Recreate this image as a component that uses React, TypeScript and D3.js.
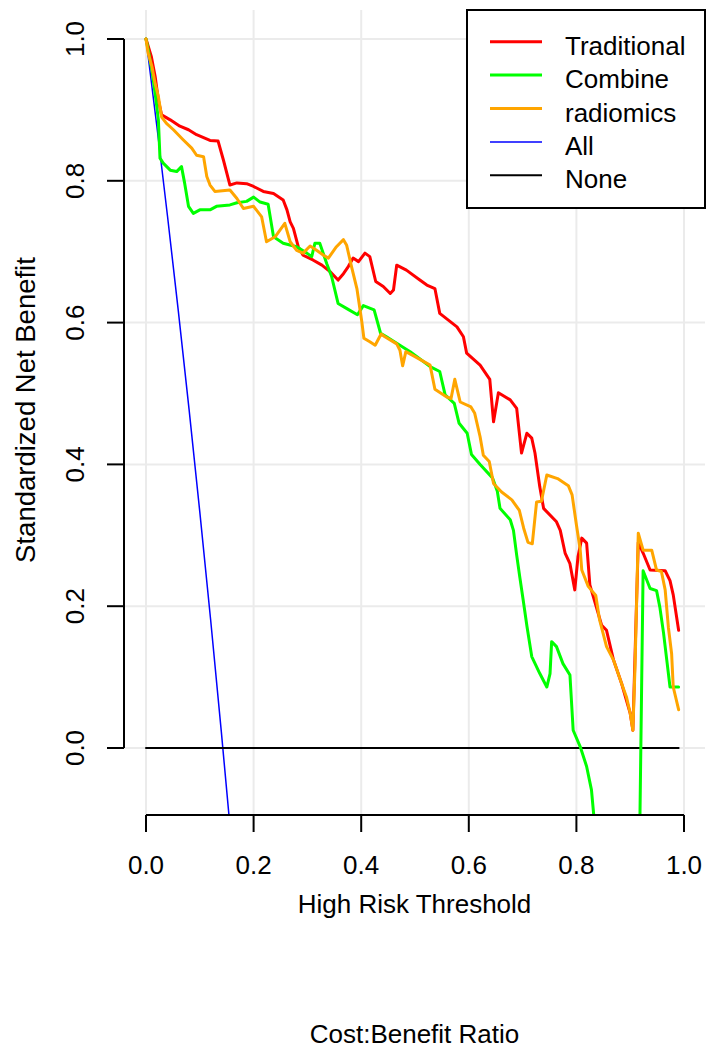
import React from "react";
import * as d3 from "d3";

// ---------- data ----------
const seriesNames = ["Traditional", "Combine", "radiomics", "All", "None"];

const traditional: [number, number][] = [
  [0, 1.0], [0.01, 0.975], [0.017, 0.947], [0.023, 0.914], [0.029, 0.893], [0.045, 0.886],
  [0.063, 0.877], [0.079, 0.872], [0.094, 0.865], [0.119, 0.857], [0.134, 0.856], [0.144, 0.829],
  [0.156, 0.794], [0.169, 0.797], [0.187, 0.796], [0.2, 0.792], [0.218, 0.785], [0.237, 0.782],
  [0.255, 0.773], [0.262, 0.759], [0.268, 0.742], [0.274, 0.733], [0.283, 0.707], [0.292, 0.695],
  [0.311, 0.688], [0.327, 0.681], [0.342, 0.672], [0.357, 0.66], [0.367, 0.669], [0.376, 0.679],
  [0.385, 0.691], [0.395, 0.686], [0.407, 0.698], [0.416, 0.693], [0.427, 0.658], [0.441, 0.651],
  [0.454, 0.641], [0.46, 0.646], [0.466, 0.681], [0.484, 0.674], [0.509, 0.66], [0.522, 0.653],
  [0.537, 0.648], [0.546, 0.613], [0.578, 0.594], [0.59, 0.58], [0.596, 0.557], [0.621, 0.54],
  [0.639, 0.52], [0.646, 0.46], [0.655, 0.501], [0.677, 0.491], [0.689, 0.479], [0.698, 0.416],
  [0.708, 0.444], [0.717, 0.437], [0.723, 0.416], [0.732, 0.368], [0.739, 0.338], [0.763, 0.319],
  [0.77, 0.307], [0.779, 0.275], [0.788, 0.26], [0.797, 0.223], [0.803, 0.27], [0.81, 0.296],
  [0.819, 0.289], [0.825, 0.23], [0.847, 0.173], [0.856, 0.166], [0.869, 0.124], [0.884, 0.091],
  [0.9, 0.049], [0.905, 0.025], [0.915, 0.29], [0.924, 0.275], [0.937, 0.251], [0.965, 0.25],
  [0.974, 0.236], [0.98, 0.216], [0.99, 0.166],
];

const combine: [number, number][] = [
  [0, 1.0], [0.004, 0.985], [0.011, 0.956], [0.017, 0.923], [0.02, 0.905], [0.023, 0.886],
  [0.026, 0.832], [0.032, 0.825], [0.045, 0.815], [0.057, 0.813], [0.066, 0.82], [0.072, 0.796],
  [0.079, 0.764], [0.088, 0.754], [0.1, 0.759], [0.119, 0.759], [0.131, 0.764], [0.156, 0.766],
  [0.169, 0.769], [0.187, 0.771], [0.2, 0.777], [0.212, 0.77], [0.227, 0.767], [0.237, 0.721],
  [0.255, 0.712], [0.28, 0.707], [0.299, 0.698], [0.308, 0.693], [0.314, 0.712], [0.323, 0.712],
  [0.336, 0.683], [0.345, 0.665], [0.357, 0.627], [0.375, 0.619], [0.393, 0.611], [0.404, 0.624],
  [0.424, 0.618], [0.436, 0.585], [0.447, 0.58], [0.466, 0.571], [0.491, 0.559], [0.528, 0.538],
  [0.546, 0.531], [0.556, 0.498], [0.573, 0.486], [0.582, 0.458], [0.597, 0.444], [0.605, 0.414],
  [0.621, 0.4], [0.644, 0.381], [0.653, 0.362], [0.658, 0.338], [0.677, 0.322], [0.683, 0.307],
  [0.689, 0.272], [0.695, 0.24], [0.701, 0.209], [0.708, 0.172], [0.717, 0.129], [0.732, 0.105],
  [0.745, 0.086], [0.751, 0.105], [0.754, 0.15], [0.763, 0.143], [0.775, 0.119], [0.788, 0.103],
  [0.794, 0.025], [0.807, 0.002], [0.819, -0.026], [0.828, -0.059], [0.84, -0.16], [0.85, -0.4],
  [0.913, -0.4], [0.924, 0.25], [0.937, 0.225], [0.949, 0.222], [0.955, 0.199], [0.962, 0.162],
  [0.968, 0.124], [0.974, 0.086], [0.99, 0.086],
];

const radiomics: [number, number][] = [
  [0, 1.0], [0.004, 0.98], [0.011, 0.961], [0.017, 0.937], [0.023, 0.919], [0.029, 0.89],
  [0.038, 0.881], [0.051, 0.872], [0.069, 0.858], [0.085, 0.846], [0.094, 0.836], [0.107, 0.834],
  [0.113, 0.806], [0.119, 0.794], [0.128, 0.785], [0.156, 0.787], [0.169, 0.775], [0.181, 0.761],
  [0.2, 0.764], [0.215, 0.749], [0.224, 0.714], [0.24, 0.721], [0.258, 0.74], [0.268, 0.714],
  [0.28, 0.702], [0.292, 0.698], [0.305, 0.708], [0.317, 0.702], [0.33, 0.695], [0.339, 0.691],
  [0.354, 0.707], [0.367, 0.717], [0.373, 0.709], [0.382, 0.679], [0.392, 0.648], [0.401, 0.602],
  [0.405, 0.578], [0.416, 0.573], [0.426, 0.568], [0.437, 0.584], [0.444, 0.58], [0.466, 0.57],
  [0.472, 0.561], [0.477, 0.539], [0.483, 0.559], [0.5, 0.552], [0.528, 0.54], [0.537, 0.506],
  [0.559, 0.495], [0.567, 0.493], [0.574, 0.52], [0.584, 0.488], [0.604, 0.481], [0.611, 0.472],
  [0.621, 0.439], [0.627, 0.413], [0.638, 0.404], [0.646, 0.373], [0.661, 0.361], [0.68, 0.35],
  [0.694, 0.335], [0.702, 0.31], [0.71, 0.29], [0.718, 0.288], [0.726, 0.347], [0.735, 0.348],
  [0.745, 0.385], [0.765, 0.38], [0.785, 0.37], [0.792, 0.357], [0.8, 0.315], [0.807, 0.28],
  [0.81, 0.251], [0.822, 0.228], [0.836, 0.215], [0.843, 0.181], [0.856, 0.143], [0.869, 0.124],
  [0.884, 0.091], [0.893, 0.072], [0.9, 0.049], [0.905, 0.025], [0.909, 0.115], [0.915, 0.303],
  [0.924, 0.279], [0.94, 0.279], [0.949, 0.251], [0.958, 0.249], [0.965, 0.223], [0.971, 0.17],
  [0.977, 0.133], [0.98, 0.086], [0.99, 0.054],
];

const treatAll: [number, number][] = [
  [0, 1.0], [0.02, 0.878], [0.04, 0.75], [0.06, 0.617], [0.08, 0.478], [0.1, 0.333],
  [0.12, 0.182], [0.14, 0.023], [0.16, -0.143],
];

const treatNone: [number, number][] = [
  [0, 0], [0.99, 0],
];

const xTicks = [0, 0.2, 0.4, 0.6, 0.8, 1.0];
const yTicks = [0, 0.2, 0.4, 0.6, 0.8, 1.0];
const xTickLabels = ["0.0", "0.2", "0.4", "0.6", "0.8", "1.0"];
const yTickLabels = ["0.0", "0.2", "0.4", "0.6", "0.8", "1.0"];

const colors = ["#FF0000", "#00FF00", "#FFA500", "#0000FF", "#000000"];
const widths = [3, 3, 3, 1.5, 2];

export default function App() {
  const W = 712;
  const H = 1058;
  const plot = { left: 124, right: 705, top: 10, bottom: 815 };
  const x = d3.scaleLinear().domain([0, 1]).range([146, 684]);
  const y = d3.scaleLinear().domain([0, 1]).range([748, 39]);
  const line = d3
    .line<[number, number]>()
    .x((d) => x(d[0]))
    .y((d) => y(d[1]));

  const font = "'Liberation Sans', Arial, sans-serif";
  const fs = 26;
  const seriesData = [traditional, combine, radiomics, treatAll, treatNone];
  const drawOrder = [3, 4, 0, 1, 2];

  const legend = { x: 467, y: 10, w: 238, h: 198 };
  const rowY = (i: number) => 41.7 + i * 33.4;

  return (
    <svg
      width={W}
      height={H}
      style={{ position: "absolute", left: 0, top: 0, background: "#fff" }}
      fontFamily={font}
    >
      <rect x={0} y={0} width={W} height={H} fill="#fff" />
      <defs>
        <clipPath id="plotclip">
          <rect
            x={plot.left}
            y={plot.top}
            width={plot.right - plot.left}
            height={plot.bottom - plot.top}
          />
        </clipPath>
      </defs>
      {/* grid */}
      <g stroke="#EBEBEB" strokeWidth={2}>
        {xTicks.map((t) => (
          <line key={"gx" + t} x1={x(t)} x2={x(t)} y1={plot.top} y2={plot.bottom} />
        ))}
        {yTicks.map((t) => (
          <line key={"gy" + t} x1={plot.left} x2={plot.right} y1={y(t)} y2={y(t)} />
        ))}
      </g>
      {/* series */}
      <g clipPath="url(#plotclip)" fill="none" strokeLinejoin="round" strokeLinecap="round">
        {drawOrder.map((i) => (
          <path
            key={seriesNames[i]}
            d={line(seriesData[i]) || ""}
            stroke={colors[i]}
            strokeWidth={widths[i]}
          />
        ))}
      </g>
      {/* axes */}
      <g stroke="#000" strokeWidth={2}>
        <line x1={x(0)} x2={x(1)} y1={plot.bottom} y2={plot.bottom} />
        {xTicks.map((t) => (
          <line key={"xt" + t} x1={x(t)} x2={x(t)} y1={plot.bottom} y2={plot.bottom + 17} />
        ))}
        <line x1={plot.left} x2={plot.left} y1={y(0)} y2={y(1)} />
        {yTicks.map((t) => (
          <line key={"yt" + t} x1={plot.left - 17} x2={plot.left} y1={y(t)} y2={y(t)} />
        ))}
      </g>
      <g fontSize={fs} fill="#000">
        {xTicks.map((t, i) => (
          <text key={"xl" + t} x={x(t)} y={874} textAnchor="middle">
            {xTickLabels[i]}
          </text>
        ))}
        {yTicks.map((t, i) => (
          <text
            key={"yl" + t}
            transform={`translate(84,${y(t)}) rotate(-90)`}
            textAnchor="middle"
          >
            {yTickLabels[i]}
          </text>
        ))}
        <text x={(plot.left + plot.right) / 2} y={913} textAnchor="middle">
          High Risk Threshold
        </text>
        <text x={(plot.left + plot.right) / 2} y={1043} textAnchor="middle">
          Cost:Benefit Ratio
        </text>
        <text
          transform={`translate(35,410) rotate(-90)`}
          textAnchor="middle"
          fontSize={27.5}
        >
          Standardized Net Benefit
        </text>
      </g>
      {/* legend */}
      <g>
        <rect
          x={legend.x}
          y={legend.y}
          width={legend.w}
          height={legend.h}
          fill="#fff"
          stroke="#000"
          strokeWidth={2}
        />
        {seriesNames.map((name, i) => (
          <g key={"lg" + name}>
            <line
              x1={490}
              x2={542}
              y1={rowY(i)}
              y2={rowY(i)}
              stroke={colors[i]}
              strokeWidth={widths[i]}
            />
            <text x={565} y={rowY(i) + 13} fontSize={fs} fill="#000">
              {name}
            </text>
          </g>
        ))}
      </g>
    </svg>
  );
}
